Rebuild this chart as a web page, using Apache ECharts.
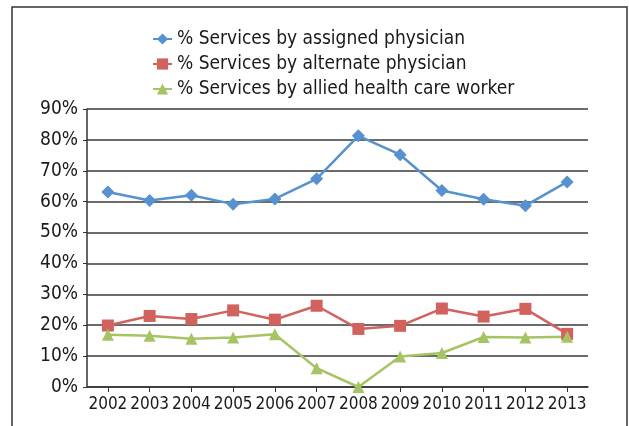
<!DOCTYPE html>
<html>
<head>
<meta charset="utf-8">
<script src="https://cdn.jsdelivr.net/npm/echarts@6/dist/echarts.min.js"></script>
<style>
  html, body { margin: 0; padding: 0; background: #fff; }
  #chart { width: 629px; height: 426px; }
</style>
</head>
<body>
<div id="chart"></div>
<script>
// Share of services by provider type, 2002–2013 (percent)
const years = ['2002', '2003', '2004', '2005', '2006', '2007', '2008', '2009', '2010', '2011', '2012', '2013'];
const assignedPhysician = [63.1, 60.4, 62.1, 59.2, 60.9, 67.4, 81.3, 75.2, 63.6, 60.8, 58.7, 66.4];
const alternatePhysician = [19.9, 23.0, 22.0, 24.8, 21.8, 26.3, 18.8, 19.8, 25.4, 22.8, 25.3, 17.2];
const alliedHealthWorker = [16.9, 16.6, 15.6, 16.0, 17.1, 6.1, 0.0, 9.9, 11.0, 16.2, 16.0, 16.3];
const seriesNames = [
  '% Services by assigned physician',
  '% Services by alternate physician',
  '% Services by allied health care worker'
];

const FONT = '"DejaVu Sans Condensed", "Liberation Sans Narrow", sans-serif';
const chart = echarts.init(document.getElementById('chart'), null, { renderer: 'canvas' });

function lineSeries(name, data, color, symbol, size) {
  return {
    name: name,
    type: 'line',
    data: data,
    symbol: symbol,
    symbolSize: size,
    showSymbol: true,
    lineStyle: { color: color, width: 2.5 },
    itemStyle: { color: color },
    emphasis: { disabled: true },
    animation: false,
    z: 3
  };
}

chart.setOption({
  animation: false,
  backgroundColor: '#fff',
  textStyle: { fontFamily: FONT },
  graphic: [{
    type: 'rect',
    shape: { x: 12, y: 7, width: 615, height: 440 },
    style: { fill: 'none', stroke: '#333', lineWidth: 1.5 },
    silent: true,
    z: 0
  }],
  legend: {
    orient: 'vertical',
    left: 147,
    top: 24,
    itemWidth: 19,
    itemHeight: 14,
    itemGap: 5,
    data: seriesNames,
    textStyle: { fontFamily: FONT, fontSize: 19, lineHeight: 20, color: '#1a1a1a' }
  },
  grid: { left: 87, right: 41, top: 109, bottom: 39, containLabel: false },
  xAxis: {
    type: 'category',
    data: years,
    boundaryGap: true,
    axisLine: { show: true, lineStyle: { color: '#333', width: 1.5 } },
    axisTick: { show: true, alignWithLabel: true, length: 5, lineStyle: { color: '#333', width: 1 } },
    axisLabel: { fontFamily: FONT, fontSize: 17, color: '#1a1a1a', margin: 9, interval: 0 },
    splitLine: { show: false }
  },
  yAxis: {
    type: 'value',
    min: 0,
    max: 90,
    interval: 10,
    axisLine: { show: true, lineStyle: { color: '#333', width: 1.5 } },
    axisTick: { show: true, length: 4, lineStyle: { color: '#333', width: 1 } },
    axisLabel: { fontFamily: FONT, fontSize: 19, color: '#1a1a1a', margin: 9, formatter: '{value}%' },
    splitLine: { show: true, lineStyle: { color: '#3a3a3a', width: 1.5 } }
  },
  series: [
    lineSeries(seriesNames[0], assignedPhysician, '#5592CF', 'diamond', 13),
    lineSeries(seriesNames[1], alternatePhysician, '#D1625D', 'rect', 12),
    lineSeries(seriesNames[2], alliedHealthWorker, '#A6C464', 'triangle', 12)
  ]
});
</script>
</body>
</html>
